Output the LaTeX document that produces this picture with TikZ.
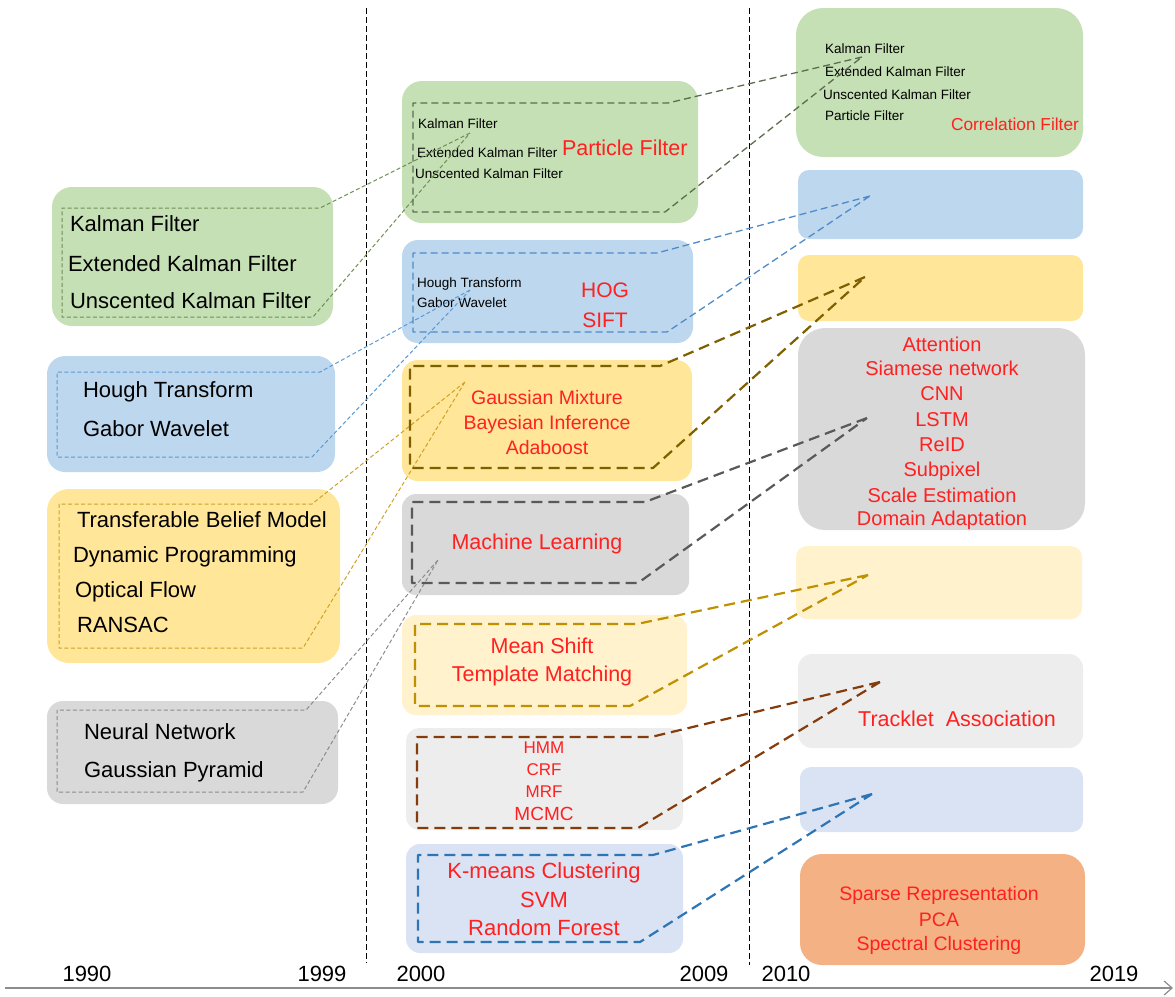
\documentclass[tikz,border=0pt]{standalone}
\usepackage{fontspec}
\setmainfont{Liberation Sans}
\usetikzlibrary{arrows.meta}
\definecolor{cGreen}{HTML}{C5E0B4}
\definecolor{cBlue}{HTML}{BDD7EE}
\definecolor{cYellow}{HTML}{FFE699}
\definecolor{cGray}{HTML}{D9D9D9}
\definecolor{cLYellow}{HTML}{FFF2CC}
\definecolor{cLGray}{HTML}{EDEDED}
\definecolor{cLBlue}{HTML}{DAE3F3}
\definecolor{cOrange}{HTML}{F4B183}
\definecolor{cRed}{HTML}{FF2020}
\definecolor{cGreenL}{HTML}{6F8F55}
\definecolor{cBlueL}{HTML}{5B9BD5}
\definecolor{cYellowL}{HTML}{D1A02A}
\definecolor{cGrayL}{HTML}{8C8C8C}
\definecolor{cGreenM}{HTML}{5C6E4E}
\definecolor{cBlueM}{HTML}{4F8BC9}
\definecolor{cYellowM}{HTML}{7F6000}
\definecolor{cGrayM}{HTML}{595959}
\definecolor{cLYellowM}{HTML}{BF9000}
\definecolor{cLGrayM}{HTML}{843C0C}
\definecolor{cLBlueM}{HTML}{2E75B6}
\definecolor{cAxis}{HTML}{8C8C8C}
\newcommand{\fsz}[1]{\fontsize{#1}{#1}\selectfont}
\newcommand{\rbox}[7]{\node[boxbase, fill=#6, rounded corners=#7, minimum width={#4-#2}, minimum height={#5-#3}] (#1) at ({(#2+#4)/2},{(#3+#5)/2}) {};}
\tikzset{
  boxbase/.style={inner sep=0pt, outer sep=0pt, draw=none, rectangle},
  lbl/.style={inner sep=0pt, outer sep=0pt, text=black},
  rlbl/.style={inner sep=0pt, outer sep=0pt, text=cRed},
  calloutThin/.style={line width=1pt, dash pattern=on 4pt off 2.5pt, line join=round},
  calloutMed/.style={line width=1.3pt, dash pattern=on 7pt off 4pt, line join=round},
  calloutThick/.style={line width=2.2pt, dash pattern=on 11pt off 6pt, line join=round},
  vsep/.style={line width=0.9pt, dash pattern=on 6pt off 3pt, draw=black},
  axisline/.style={line width=1.4pt, draw=cAxis, -{Straight Barb[length=8pt, width=14pt, line width=1.2pt]}},
  yr/.style={inner sep=0pt, outer sep=0pt, text=black, font=\fsz{22}, anchor=base},
}
\begin{document}
\begin{tikzpicture}[x=1pt,y=-1pt]
\useasboundingbox (0,0) rectangle (1175,996);

% ---------- boxes ----------
% left column
\rbox{Lg}{52}{187}{333}{326}{cGreen}{20pt}
\rbox{Lb}{47}{356}{335}{472}{cBlue}{18pt}
\rbox{Ly}{47}{489}{340}{663}{cYellow}{22pt}
\rbox{Lk}{47}{701}{338}{804}{cGray}{16pt}
% middle column
\rbox{Mg}{402}{81}{698}{223}{cGreen}{20pt}
\rbox{Mb}{402}{240}{693}{343}{cBlue}{16pt}
\rbox{My}{402}{360}{692}{481}{cYellow}{16pt}
\rbox{Mk}{402}{494}{689}{595}{cGray}{14pt}
\rbox{Mly}{402}{615}{687}{715}{cLYellow}{14pt}
\rbox{Mlk}{406}{728}{683}{830}{cLGray}{13pt}
\rbox{Mlb}{406}{844}{683}{953}{cLBlue}{14pt}
% right column
\rbox{Rg}{796}{8}{1083}{157}{cGreen}{27pt}
\rbox{Rb}{798}{170}{1083}{239}{cBlue}{11pt}
\rbox{Ry}{798}{255}{1083}{321}{cYellow}{11pt}
\rbox{Rk}{798}{328}{1085}{530}{cGray}{27pt}
\rbox{Rly}{796}{546}{1082}{619}{cLYellow}{11pt}
\rbox{Rlk}{798}{654}{1083}{748}{cLGray}{14pt}
\rbox{Rlb}{800}{767}{1083}{832}{cLBlue}{11pt}
\rbox{Ro}{800}{854}{1085}{965}{cOrange}{22pt}

% ---------- texts ----------
% left green
\node[lbl, anchor=base west, font=\fsz{22}] (tLg1) at (70,231) {Kalman Filter};
\node[lbl, anchor=base west, font=\fsz{22}] (tLg2) at (68,271) {Extended Kalman Filter};
\node[lbl, anchor=base west, font=\fsz{22}] (tLg3) at (70,308) {Unscented Kalman Filter};
% left blue
\node[lbl, anchor=base west, font=\fsz{22}] (tLb1) at (83,397) {Hough Transform};
\node[lbl, anchor=base west, font=\fsz{22}] (tLb2) at (83,436) {Gabor Wavelet};
% left yellow
\node[lbl, anchor=base west, font=\fsz{22}] (tLy1) at (77,527) {Transferable Belief Model};
\node[lbl, anchor=base west, font=\fsz{22}] (tLy2) at (73,562) {Dynamic Programming};
\node[lbl, anchor=base west, font=\fsz{22}] (tLy3) at (75,597) {Optical Flow};
\node[lbl, anchor=base west, font=\fsz{22}] (tLy4) at (77,632) {RANSAC};
% left gray
\node[lbl, anchor=base west, font=\fsz{22}] (tLk1) at (84,739) {Neural Network};
\node[lbl, anchor=base west, font=\fsz{22}] (tLk2) at (84,777) {Gaussian Pyramid};

% middle green
\node[lbl, anchor=base west, font=\fsz{13.5}] (tMg1) at (418,128) {Kalman Filter};
\node[lbl, anchor=base west, font=\fsz{13.5}] (tMg2) at (417,157) {Extended Kalman Filter};
\node[lbl, anchor=base west, font=\fsz{13.5}] (tMg3) at (415,178) {Unscented Kalman Filter};
\node[rlbl, anchor=base west, font=\fsz{21.5}] (tMg4) at (562,155) {Particle Filter};
% middle blue
\node[lbl, anchor=base west, font=\fsz{13.5}] (tMb1) at (417,287) {Hough Transform};
\node[lbl, anchor=base west, font=\fsz{13.5}] (tMb2) at (417,307) {Gabor Wavelet};
\node[rlbl, anchor=base, font=\fsz{21}] (tMb3) at (605,297) {HOG};
\node[rlbl, anchor=base, font=\fsz{21}] (tMb4) at (605,327) {SIFT};
% middle yellow
\node[rlbl, anchor=base, font=\fsz{19.5}] (tMy1) at (547,404) {Gaussian Mixture};
\node[rlbl, anchor=base, font=\fsz{19.5}] (tMy2) at (547,429) {Bayesian Inference};
\node[rlbl, anchor=base, font=\fsz{19.5}] (tMy3) at (547,454) {Adaboost};
% middle gray
\node[rlbl, anchor=base, font=\fsz{21.5}] (tMk1) at (537,549) {Machine Learning};
% middle light yellow
\node[rlbl, anchor=base, font=\fsz{21.5}] (tMly1) at (542,653) {Mean Shift};
\node[rlbl, anchor=base, font=\fsz{21.5}] (tMly2) at (542,681) {Template Matching};
% middle light gray
\node[rlbl, anchor=base, font=\fsz{17}] (tMlk1) at (544,753) {HMM};
\node[rlbl, anchor=base, font=\fsz{17}] (tMlk2) at (544,775) {CRF};
\node[rlbl, anchor=base, font=\fsz{17}] (tMlk3) at (544,797) {MRF};
\node[rlbl, anchor=base, font=\fsz{19}] (tMlk4) at (544,820) {MCMC};
% middle light blue
\node[rlbl, anchor=base, font=\fsz{22}] (tMlb1) at (544,878) {K-means Clustering};
\node[rlbl, anchor=base, font=\fsz{22}] (tMlb2) at (544,907) {SVM};
\node[rlbl, anchor=base, font=\fsz{22}] (tMlb3) at (544,935) {Random Forest};

% right green
\node[lbl, anchor=base west, font=\fsz{13.5}] (tRg1) at (825,53) {Kalman Filter};
\node[lbl, anchor=base west, font=\fsz{13.5}] (tRg2) at (825,76) {Extended Kalman Filter};
\node[lbl, anchor=base west, font=\fsz{13.5}] (tRg3) at (823,99) {Unscented Kalman Filter};
\node[lbl, anchor=base west, font=\fsz{13.5}] (tRg4) at (825,120) {Particle Filter};
\node[rlbl, anchor=base, font=\fsz{17.3}] (tRg5) at (1015,130) {Correlation Filter};
% right gray
\node[rlbl, anchor=base, font=\fsz{20}] (tRk1) at (942,351) {Attention};
\node[rlbl, anchor=base, font=\fsz{20}] (tRk2) at (942,375) {Siamese network};
\node[rlbl, anchor=base, font=\fsz{20}] (tRk3) at (942,400) {CNN};
\node[rlbl, anchor=base, font=\fsz{20}] (tRk4) at (942,426) {LSTM};
\node[rlbl, anchor=base, font=\fsz{20}] (tRk5) at (942,451) {ReID};
\node[rlbl, anchor=base, font=\fsz{20}] (tRk6) at (942,476) {Subpixel};
\node[rlbl, anchor=base, font=\fsz{20}] (tRk7) at (942,502) {Scale Estimation};
\node[rlbl, anchor=base, font=\fsz{20}] (tRk8) at (942,525) {Domain Adaptation};
% right light gray
\node[rlbl, anchor=base, font=\fsz{21.5}] (tRlk1) at (957,726) {Tracklet\ \ Association};
% right orange
\node[rlbl, anchor=base, font=\fsz{19.5}] (tRo1) at (939,900) {Sparse Representation};
\node[rlbl, anchor=base, font=\fsz{19.5}] (tRo2) at (939,926) {PCA};
\node[rlbl, anchor=base, font=\fsz{19.5}] (tRo3) at (939,950) {Spectral Clustering};

% ---------- separators ----------
\coordinate (v1t) at (366,8);
\coordinate (v1b) at (366,963);
\coordinate (v2t) at (749,8);
\coordinate (v2b) at (749,965);
\draw[vsep] (v1t) -- (v1b);
\draw[vsep] (v2t) -- (v2b);

% ---------- callouts ----------
% left green -> middle green
\coordinate (cLgTL) at (62,208);  \coordinate (cLgTR) at (320,208);
\coordinate (cLgBL) at (62,317);  \coordinate (cLgBR) at (313,317);
\coordinate (cLgT) at (470,133);
\draw[calloutThin, draw=cGreenL] (cLgT) -- (cLgTR) -- (cLgTL) -- (cLgBL) -- (cLgBR) -- (cLgT);
% left blue -> middle blue
\coordinate (cLbTL) at (57,372);  \coordinate (cLbTR) at (320,372);
\coordinate (cLbBL) at (57,457);  \coordinate (cLbBR) at (312,457);
\coordinate (cLbT) at (470,290);
\draw[calloutThin, draw=cBlueL] (cLbT) -- (cLbTR) -- (cLbTL) -- (cLbBL) -- (cLbBR) -- (cLbT);
% left yellow -> middle yellow
\coordinate (cLyTL) at (59,504);  \coordinate (cLyTR) at (312,504);
\coordinate (cLyBL) at (59,648);  \coordinate (cLyBR) at (303,648);
\coordinate (cLyT) at (465,382);
\draw[calloutThin, draw=cYellowL] (cLyT) -- (cLyTR) -- (cLyTL) -- (cLyBL) -- (cLyBR) -- (cLyT);
% left gray -> middle gray
\coordinate (cLkTL) at (57,710);  \coordinate (cLkTR) at (306,710);
\coordinate (cLkBL) at (57,792);  \coordinate (cLkBR) at (303,792);
\coordinate (cLkT) at (438,560);
\draw[calloutThin, draw=cGrayL] (cLkT) -- (cLkTR) -- (cLkTL) -- (cLkBL) -- (cLkBR) -- (cLkT);

% middle green -> right green
\coordinate (cMgTL) at (413,103); \coordinate (cMgTR) at (668,103);
\coordinate (cMgBL) at (413,212); \coordinate (cMgBR) at (665,212);
\coordinate (cMgT) at (862,57);
\draw[calloutMed, draw=cGreenM] (cMgT) -- (cMgTR) -- (cMgTL) -- (cMgBL) -- (cMgBR) -- (cMgT);
% middle blue -> right blue
\coordinate (cMbTL) at (413,253); \coordinate (cMbTR) at (657,253);
\coordinate (cMbBL) at (413,332); \coordinate (cMbBR) at (667,332);
\coordinate (cMbT) at (870,196);
\draw[calloutMed, draw=cBlueM] (cMbT) -- (cMbTR) -- (cMbTL) -- (cMbBL) -- (cMbBR) -- (cMbT);
% middle yellow -> right yellow
\coordinate (cMyTL) at (410,366); \coordinate (cMyTR) at (660,366);
\coordinate (cMyBL) at (410,468); \coordinate (cMyBR) at (653,468);
\coordinate (cMyT) at (865,277);
\draw[calloutThick, draw=cYellowM] (cMyT) -- (cMyTR) -- (cMyTL) -- (cMyBL) -- (cMyBR) -- (cMyT);
% middle gray -> right gray
\coordinate (cMkTL) at (412,502); \coordinate (cMkTR) at (645,502);
\coordinate (cMkBL) at (412,583); \coordinate (cMkBR) at (638,583);
\coordinate (cMkT) at (867,418);
\draw[calloutThick, draw=cGrayM] (cMkT) -- (cMkTR) -- (cMkTL) -- (cMkBL) -- (cMkBR) -- (cMkT);
% middle light yellow -> right light yellow
\coordinate (cMlyTL) at (415,624); \coordinate (cMlyTR) at (637,624);
\coordinate (cMlyBL) at (415,706); \coordinate (cMlyBR) at (630,706);
\coordinate (cMlyT) at (868,575);
\draw[calloutThick, draw=cLYellowM] (cMlyT) -- (cMlyTR) -- (cMlyTL) -- (cMlyBL) -- (cMlyBR) -- (cMlyT);
% middle light gray -> right light gray
\coordinate (cMlkTL) at (417,737); \coordinate (cMlkTR) at (651,737);
\coordinate (cMlkBL) at (417,828); \coordinate (cMlkBR) at (638,828);
\coordinate (cMlkT) at (880,682);
\draw[calloutThick, draw=cLGrayM] (cMlkT) -- (cMlkTR) -- (cMlkTL) -- (cMlkBL) -- (cMlkBR) -- (cMlkT);
% middle light blue -> right light blue
\coordinate (cMlbTL) at (418,855); \coordinate (cMlbTR) at (653,855);
\coordinate (cMlbBL) at (418,942); \coordinate (cMlbBR) at (640,942);
\coordinate (cMlbT) at (872,794);
\draw[calloutThick, draw=cLBlueM] (cMlbT) -- (cMlbTR) -- (cMlbTL) -- (cMlbBL) -- (cMlbBR) -- (cMlbT);

% ---------- axis ----------
\coordinate (axL) at (5,988);
\coordinate (axR) at (1173,988);
\draw[axisline] (axL) -- (axR);
\node[yr] (y1990) at (87,981) {1990};
\node[yr] (y1999) at (322,981) {1999};
\node[yr] (y2000) at (421,981) {2000};
\node[yr] (y2009) at (704,981) {2009};
\node[yr] (y2010) at (786,981) {2010};
\node[yr] (y2019) at (1114,981) {2019};
\end{tikzpicture}
\end{document}
